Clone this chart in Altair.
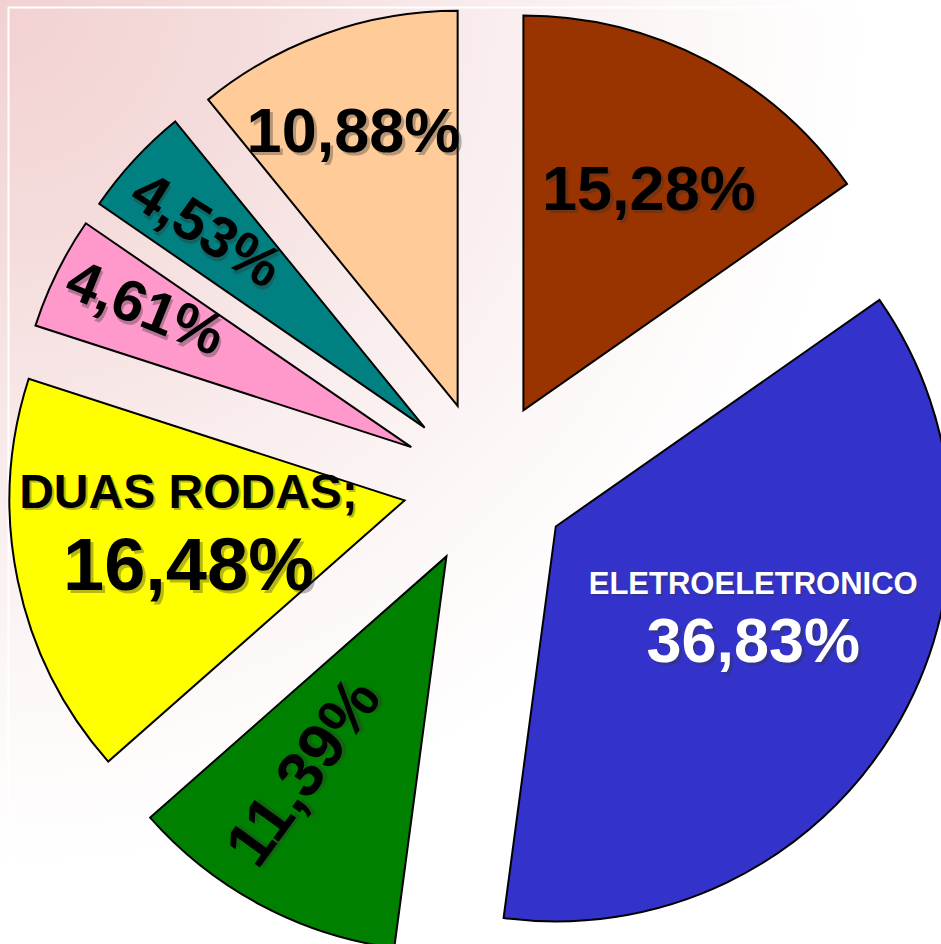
import altair as alt
import pandas as pd

# ---------------- data ----------------
sectors = ["Setor A", "Eletroeletrônico", "Setor C", "Duas Rodas", "Setor E", "Setor F", "Setor G"]
shares = [15.28, 36.83, 11.39, 16.48, 4.61, 4.53, 10.88]
name_labels = ["", "ELETROELETRONICO", "", "DUAS RODAS;", "", "", ""]

# ---------------- styles / layout ----------------
slice_colors = ["#993300", "#3333CC", "#008000", "#FFFF00", "#FF99CC", "#008080", "#FFCC99"]
label_colors = ["#000000", "#FFFFFF", "#000000", "#000000", "#000000", "#000000", "#000000"]
label_radius = [0.647, 0.576, 0.648, 0.570, 0.763, 0.750, 0.747]   # fraction of R
label_shift_deg = [1.9, -1.5, 5.5, -4.6, 1.6, -0.4, -1.1]          # from slice mid-angle
label_angle = [0, 0, 306, 0, 22, 32, 0]
label_size = [63, 63, 64, 74, 58, 58, 63]
name_size = [0, 31, 0, 48, 0, 0, 0]
name_gap = [0, 56, 0, 72, 0, 0, 0]

W, H = 941, 944
CX, CY = 485.3, 483.6
R = 395
EXPLODE = 82.5
FONT = "Liberation Sans"

df = pd.DataFrame({
    "order": list(range(len(sectors))),
    "sector": sectors,
    "value": shares,
    "name": name_labels,
    "color": slice_colors,
    "tcolor": label_colors,
    "lr": label_radius,
    "lshift": label_shift_deg,
    "rot": label_angle,
    "fs": label_size,
    "ns": name_size,
    "gap": name_gap,
})

base = (
    alt.Chart(df)
    .transform_joinaggregate(total="sum(value)")
    .transform_window(cum="sum(value)", sort=[alt.SortField("order")], frame=[None, 0])
    .transform_calculate(t0="2*PI*(datum.cum - datum.value)/datum.total")
    .transform_calculate(t1="2*PI*datum.cum/datum.total")
    .transform_calculate(mid="(datum.t0 + datum.t1)/2")
    .transform_calculate(cx=f"{CX} + {EXPLODE}*sin(datum.mid)")
    .transform_calculate(cy=f"{CY} - {EXPLODE}*cos(datum.mid)")
    .transform_calculate(la="datum.mid + datum.lshift*PI/180")
    .transform_calculate(lx=f"datum.cx + datum.lr*{R}*sin(datum.la)")
    .transform_calculate(vcy=f"datum.cy - datum.lr*{R}*cos(datum.la)")
    .transform_calculate(ly="datum.vcy + 0.058*datum.fs")
    .transform_calculate(ny="datum.vcy - datum.gap + 0.058*datum.ns")
    .transform_calculate(pct="replace(format(datum.value, '.2f'), '.', ',') + '%'")
)

X = lambda f: alt.X(f, scale=None, axis=None)
Y = lambda f: alt.Y(f, scale=None, axis=None)

# background
bg = alt.Chart(pd.DataFrame({"k": [0]})).mark_rect(
    fill=alt.RadialGradient(
        gradient="radial",
        stops=[
            alt.GradientStop(color="#f2d1d1", offset=0),
            alt.GradientStop(color="#f5dddd", offset=0.3),
            alt.GradientStop(color="#f9ecec", offset=0.55),
            alt.GradientStop(color="#fdf8f8", offset=0.8),
            alt.GradientStop(color="#ffffff", offset=1),
        ],
        x1=0, y1=0, r1=0, x2=0, y2=0, r2=0.92,
    )
).encode(x=alt.value(0), x2=alt.value(W), y=alt.value(0), y2=alt.value(H))

frame_top = alt.Chart(pd.DataFrame({"k": [0]})).mark_rule(color="white", strokeWidth=2).encode(
    x=alt.value(8), x2=alt.value(W), y=alt.value(7.5)
)
frame_left = alt.Chart(pd.DataFrame({"k": [0]})).mark_rule(color="white", strokeWidth=2).encode(
    x=alt.value(8.5), y=alt.value(7), y2=alt.value(H)
)

arcs = base.mark_arc(radius=R, stroke="black", strokeWidth=2).encode(
    theta=alt.Theta("t0:Q", scale=None, stack=False),
    theta2=alt.Theta2("t1:Q"),
    x=X("cx:Q"),
    y=Y("cy:Q"),
    fill=alt.Fill("color:N", scale=None),
)

value_enc = dict(
    x=X("lx:Q"),
    y=Y("ly:Q"),
    text=alt.Text("pct:N"),
    size=alt.Size("fs:Q", scale=None),
    angle=alt.Angle("rot:Q", scale=None),
)

value_shadow = base.mark_text(
    font=FONT, fontWeight="bold", align="center", baseline="middle",
    dx=3, dy=3, color="#333333", opacity=0.35,
).encode(**value_enc)

values_txt = base.mark_text(
    font=FONT, fontWeight="bold", align="center", baseline="middle",
).encode(color=alt.Color("tcolor:N", scale=None), **value_enc)

names_base = base.transform_filter("datum.name != ''")
name_enc = dict(
    x=X("lx:Q"),
    y=Y("ny:Q"),
    text=alt.Text("name:N"),
    size=alt.Size("ns:Q", scale=None),
)
name_shadow = names_base.mark_text(
    font=FONT, fontWeight="bold", align="center", baseline="middle",
    dx=2, dy=2, color="#333333", opacity=0.35,
).encode(**name_enc)
names_txt = names_base.mark_text(
    font=FONT, fontWeight="bold", align="center", baseline="middle",
).encode(color=alt.Color("tcolor:N", scale=None), **name_enc)

chart = (
    alt.layer(bg, frame_top, frame_left, arcs, value_shadow, values_txt, name_shadow, names_txt)
    .properties(width=W, height=H, padding=0, autosize="none", background="white")
    .configure_view(stroke=None)
)

chart.save("out.html", embed_options={"renderer": "svg", "actions": False})
